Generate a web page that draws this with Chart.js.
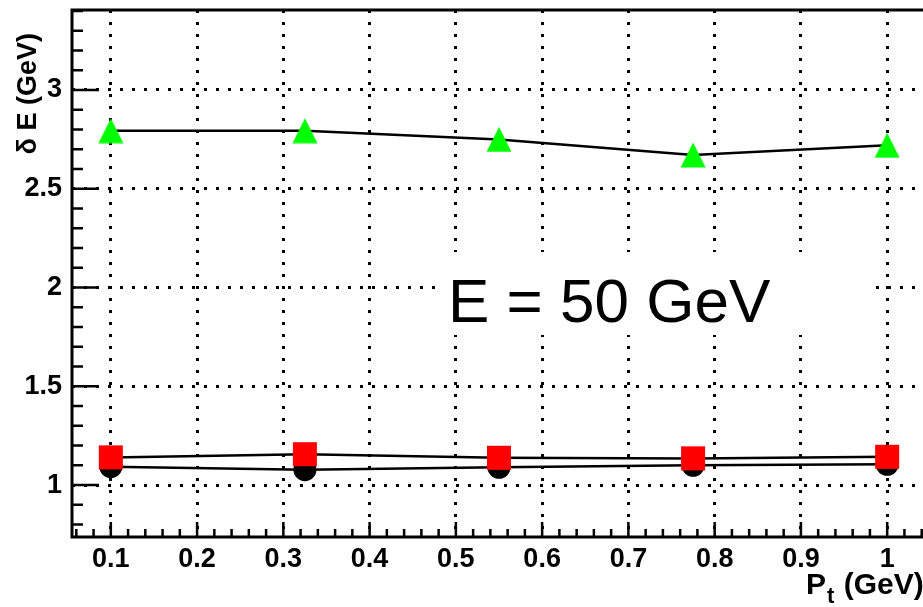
<!DOCTYPE html>
<html lang="en">
<head>
    <meta charset="UTF-8">
    <title>Energy resolution vs Pt</title>
    <script src="https://cdn.jsdelivr.net/npm/chart.js"></script>
    <style>
        body {
            margin: 0;
            padding: 0;
            background: #fff;
            overflow: hidden;
        }
        .chart-box {
            position: absolute;
            left: 0;
            top: 0;
            width: 930px;
            height: 607px;
        }
    </style>
</head>
<body>
    <div class="chart-box">
        <canvas id="res-chart" width="930" height="607"></canvas>
    </div>

    <script>
        // values
        const ptValues = [0.1, 0.325, 0.55, 0.775, 1.0];
        const greenRes = [2.794, 2.794, 2.75, 2.671, 2.72];
        const redRes = [1.140, 1.156, 1.138, 1.135, 1.143];
        const blackRes = [1.093, 1.078, 1.090, 1.100, 1.105];

        const xTickVals = [0.1, 0.2, 0.3, 0.4, 0.5, 0.6, 0.7, 0.8, 0.9, 1];
        const yTickVals = [1, 1.5, 2, 2.5, 3];

        const FONT = "'Liberation Sans', Arial, Helvetica, sans-serif";

        function toPoints(ys) {
            return ptValues.map((x, i) => ({ x: x, y: ys[i] }));
        }

        // ROOT style full triangle (symmetric about the point)
        const triMarker = document.createElement('canvas');
        triMarker.width = 26;
        triMarker.height = 26;
        (function () {
            let c = triMarker.getContext('2d');
            c.fillStyle = '#00ff00';
            c.beginPath();
            c.moveTo(13, 0.5);
            c.lineTo(25.5, 25.5);
            c.lineTo(0.5, 25.5);
            c.closePath();
            c.fill();
        })();

        // frame, inward ticks and texts
        const rootFrame = {
            id: 'rootFrame',
            beforeDatasetsDraw(chart) {
                const { ctx, chartArea: a, scales: { x, y } } = chart;
                ctx.save();
                ctx.strokeStyle = '#000';
                ctx.lineWidth = 2.5;
                ctx.beginPath();
                // x ticks
                for (let k = 3; k <= 52; k++) {
                    let v = k * 0.02;
                    let px = x.getPixelForValue(v);
                    let major = (k % 5 === 0);
                    ctx.moveTo(px, a.bottom);
                    ctx.lineTo(px, a.bottom - (major ? 15 : 8));
                }
                // y ticks
                for (let k = 8; k <= 34; k++) {
                    let v = k * 0.1;
                    let py = y.getPixelForValue(v);
                    let major = (k % 5 === 0);
                    ctx.moveTo(a.left, py);
                    ctx.lineTo(a.left + (major ? 27 : 11), py);
                }
                ctx.stroke();

                ctx.lineWidth = 3;
                ctx.beginPath();
                ctx.moveTo(a.right, a.top);
                ctx.lineTo(a.left, a.top);
                ctx.lineTo(a.left, a.bottom);
                ctx.lineTo(a.right, a.bottom);
                ctx.stroke();
                ctx.restore();
            },
            afterDraw(chart) {
                const { ctx } = chart;
                ctx.save();

                // white label box hides the grid behind the text
                ctx.fillStyle = '#fff';
                ctx.fillRect(437, 252, 435, 83);

                ctx.fillStyle = '#000';
                ctx.font = '62px ' + FONT;
                ctx.textAlign = 'left';
                ctx.textBaseline = 'alphabetic';
                ctx.fillText('E = 50 GeV', 448, 322);

                // y axis title
                ctx.save();
                ctx.translate(36, 33);
                ctx.rotate(-Math.PI / 2);
                ctx.font = 'bold 27px ' + FONT;
                ctx.textAlign = 'right';
                ctx.fillText('\u03b4 E (GeV)', 0, 0);
                ctx.restore();

                // x axis title  P_t (GeV)
                ctx.font = 'bold 30px ' + FONT;
                ctx.textAlign = 'left';
                let xx = 806;
                ctx.fillText('P', xx, 594);
                xx += ctx.measureText('P').width;
                ctx.font = 'bold 22px ' + FONT;
                ctx.fillText('t', xx + 1, 603);
                xx += ctx.measureText('t').width + 2;
                ctx.font = 'bold 30px ' + FONT;
                ctx.fillText(' (GeV)', xx, 594);
                ctx.restore();
            }
        };

        const lineStyle = { borderColor: '#000', borderWidth: 2.5, showLine: true, tension: 0, fill: false };

        new Chart(document.getElementById('res-chart'), {
            type: 'scatter',
            data: {
                datasets: [
                    Object.assign({
                        label: 'red',
                        data: toPoints(redRes),
                        pointStyle: 'rect',
                        pointRadius: 17,
                        pointBackgroundColor: '#ff0000',
                        pointBorderWidth: 0,
                        order: 0
                    }, lineStyle),
                    Object.assign({
                        label: 'black',
                        data: toPoints(blackRes),
                        pointStyle: 'circle',
                        pointRadius: 11.5,
                        pointBackgroundColor: '#000',
                        pointBorderWidth: 0,
                        order: 1
                    }, lineStyle),
                    Object.assign({
                        label: 'green',
                        data: toPoints(greenRes),
                        pointStyle: triMarker,
                        pointRadius: 13,
                        pointBorderWidth: 0,
                        order: 2
                    }, lineStyle)
                ]
            },
            options: {
                responsive: false,
                animation: false,
                layout: { autoPadding: false, padding: { top: 10, right: 4, left: 0, bottom: 0 } },
                plugins: { legend: { display: false }, tooltip: { enabled: false } },
                scales: {
                    x: {
                        type: 'linear',
                        min: 0.055,
                        max: 1.045,
                        afterBuildTicks: s => { s.ticks = xTickVals.map(v => ({ value: v })); },
                        afterFit: s => { s.height = 70; s.paddingLeft = 0; s.paddingRight = 0; },
                        grid: { color: '#000', lineWidth: 3, drawTicks: false },
                        border: { display: false, dash: [3, 9] },
                        ticks: {
                            padding: 6,
                            color: '#000',
                            font: { family: FONT, size: 27, weight: 'bold' },
                            maxRotation: 0,
                            callback: v => String(+v.toFixed(2))
                        }
                    },
                    y: {
                        type: 'linear',
                        min: 0.737,
                        max: 3.405,
                        afterBuildTicks: s => { s.ticks = yTickVals.map(v => ({ value: v })); },
                        afterFit: s => { s.width = 72; s.paddingTop = 0; s.paddingBottom = 0; },
                        grid: { color: '#000', lineWidth: 3, drawTicks: false },
                        border: { display: false, dash: [3, 9] },
                        ticks: {
                            padding: 10,
                            color: '#000',
                            font: { family: FONT, size: 27, weight: 'bold' },
                            callback: v => String(+v.toFixed(2))
                        }
                    }
                }
            },
            plugins: [rootFrame]
        });
    </script>
</body>
</html>
